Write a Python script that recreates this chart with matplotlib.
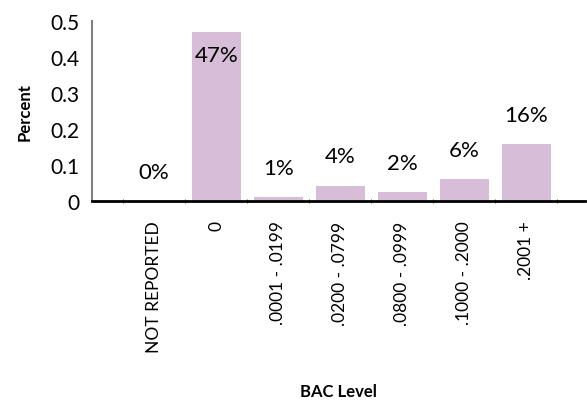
import matplotlib.pyplot as plt

categories = ["NOT REPORTED", "0", ".0001 - .0199", ".0200 - .0799",
              ".0800 - .0999", ".1000 - .2000", ".2001 +"]
values = [0.0, 0.47, 0.011, 0.042, 0.024, 0.061, 0.158]
labels = ["0%", "47%", "1%", "4%", "2%", "6%", "16%"]

plt.rcParams["font.family"] = ["Lato", "DejaVu Sans"]

fig = plt.figure(figsize=(5.87, 4.02), dpi=100)
ax = fig.add_axes([0.157, 0.4975, 0.84, 0.4475])

x = list(range(len(categories)))
ax.bar(x, values, width=0.79, color="#D7BDD7")

for i, (v, lab) in enumerate(zip(values, labels)):
    if v > 0.4:
        ax.text(i, v - 0.065, lab, ha="center", va="center", fontsize=16)
    else:
        ax.text(i, v + 0.082, lab, ha="center", va="center", fontsize=16)

ax.set_xlim(-1.0, 6.95)
ax.set_ylim(0, 0.5)
ax.set_yticks([0, 0.1, 0.2, 0.3, 0.4, 0.5])
ax.set_yticklabels(["0", "0.1", "0.2", "0.3", "0.4", "0.5"], fontsize=15)
ax.set_xticks(x)
ax.set_xticklabels(categories, rotation=90, fontsize=12.5, va="top")
ax.set_xticks([i - 0.5 for i in range(len(categories) + 1)], minor=True)
ax.tick_params(axis="x", which="major", length=0, pad=14)
ax.tick_params(axis="x", which="minor", length=3, direction="inout", color="#404040")
ax.tick_params(axis="y", length=0, pad=9)

for s in ["top", "right"]:
    ax.spines[s].set_visible(False)
ax.spines["bottom"].set_linewidth(2)
ax.spines["bottom"].set_color("black")
ax.spines["left"].set_color("#808080")
ax.spines["left"].set_linewidth(1.5)

ax.set_ylabel("Percent", fontsize=12, fontweight="bold", va="center")
ax.set_xlabel("BAC Level", fontsize=12, fontweight="bold", va="center")
ax.xaxis.set_label_coords(0.5, -1.055)
ax.yaxis.set_label_coords(-0.136, 0.5)

fig.savefig("out.png", dpi=100)
